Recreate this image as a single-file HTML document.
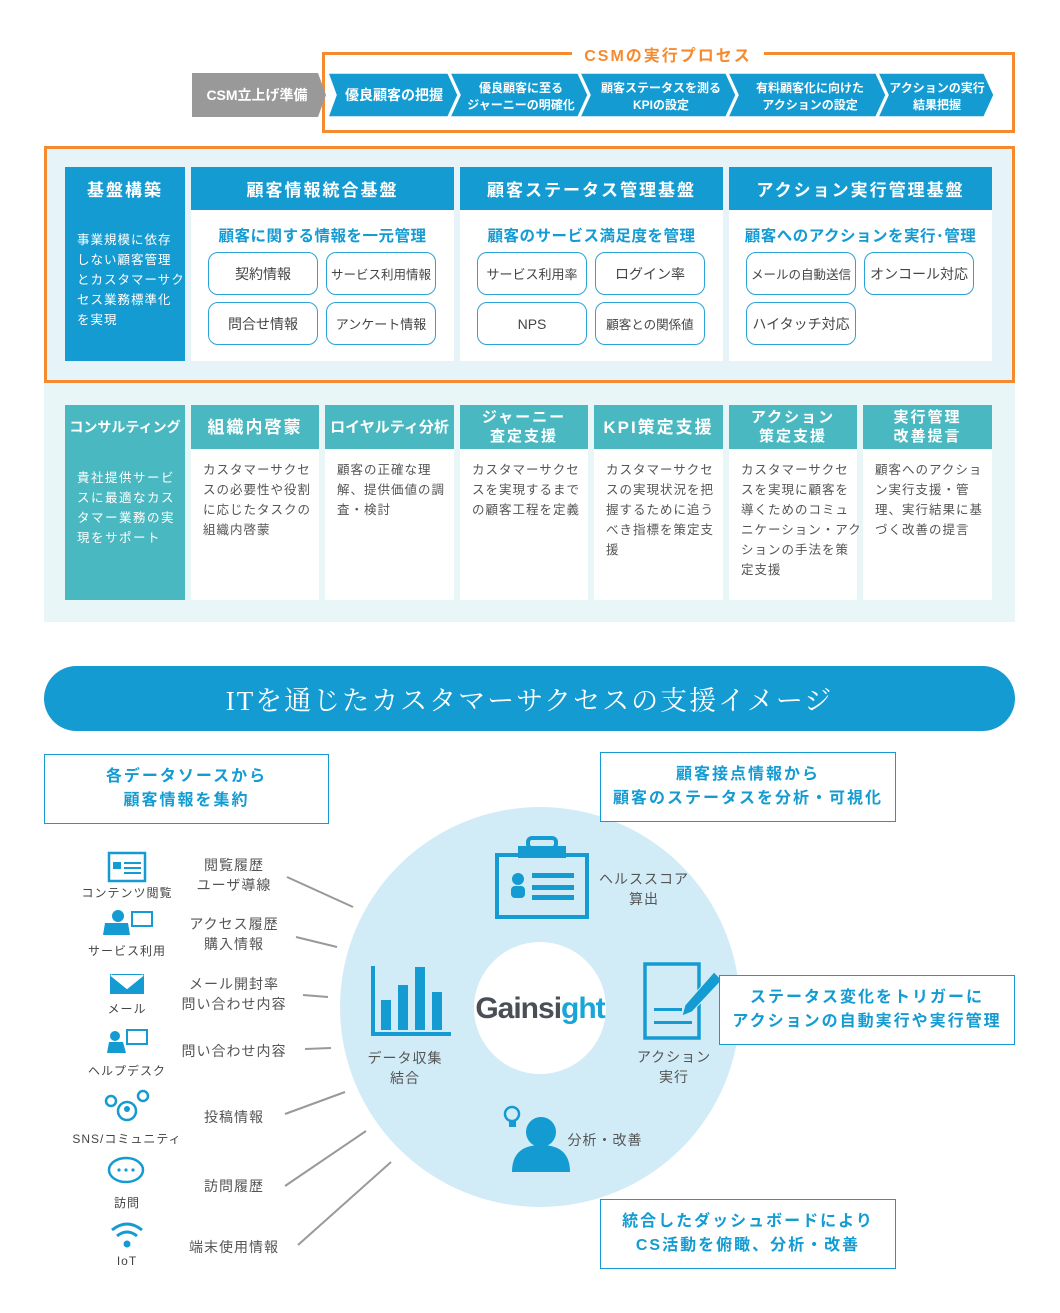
<!DOCTYPE html>
<html><head><meta charset="utf-8"><style>
body{margin:0;background:#fff;font-family:"Liberation Sans","Noto Sans CJK JP",sans-serif;}
#w{position:relative;width:1060px;height:1313px;overflow:hidden;}
.a{position:absolute;box-sizing:border-box;}
.c{display:flex;align-items:center;justify-content:center;text-align:center;}
.hb{background:#139bd2;color:#fff;font-weight:bold;font-size:17px;letter-spacing:2px;}
.ht{background:#4ab8c0;color:#fff;font-weight:bold;font-size:15px;letter-spacing:2px;line-height:19px;}
.wb{background:#fff;}
.pill{position:absolute;border:1.5px solid #2aa3d6;border-radius:10px;background:#fff;color:#444;font-size:14px;display:flex;align-items:center;justify-content:center;box-sizing:border-box;height:43px;width:110px;}
.sub{position:absolute;color:#139bd2;font-size:15.5px;font-weight:bold;text-align:center;letter-spacing:0.5px;white-space:nowrap;}
.bt{position:absolute;color:#555;font-size:12.5px;line-height:20px;letter-spacing:1px;white-space:nowrap;}
.bx{position:absolute;border:1.5px solid #139bd2;color:#139bd2;font-size:16px;font-weight:bold;letter-spacing:2px;line-height:24px;display:flex;align-items:center;justify-content:center;text-align:center;box-sizing:border-box;background:#fff;}
.lb{position:absolute;color:#555;font-size:14px;line-height:20px;text-align:center;letter-spacing:1px;}
.il{position:absolute;color:#444;font-size:12px;text-align:center;width:120px;letter-spacing:1px;}
</style></head><body><div id="w">
<div class="a" style="left:322px;top:52px;width:693px;height:81px;border:3px solid #f58a2f;"></div>
<div class="a" style="left:572px;top:42px;width:192px;height:22px;background:#fff;color:#f58a2f;font-weight:bold;font-size:16px;letter-spacing:2px;text-align:center;">CSMの実行プロセス</div>
<svg class="a" style="left:0;top:0" width="1060" height="140">
<polygon points="192,73 318,73 326,95 318,117 192,117" fill="#999"/>
<g fill="#139bd2" stroke="#fff" stroke-width="1.5">
<polygon points="328,73 448,73 458,95 448,117 328,117 336,95"/>
<polygon points="450,73 578,73 588,95 578,117 450,117 460,95"/>
<polygon points="580,73 726,73 736,95 726,117 580,117 590,95"/>
<polygon points="728,73 876,73 886,95 876,117 728,117 738,95"/>
<polygon points="878,73 984,73 994,95 984,117 878,117 888,95"/>
</g>
<g fill="#fff" font-size="12" font-weight="bold" text-anchor="middle" font-family="Liberation Sans,Noto Sans CJK JP,sans-serif">
<text x="257" y="100" font-size="14">CSM立上げ準備</text>
<text x="394" y="100" font-size="14">優良顧客の把握</text>
<text x="521" y="92">優良顧客に至る</text><text x="521" y="109">ジャーニーの明確化</text>
<text x="661" y="92">顧客ステータスを測る</text><text x="661" y="109">KPIの設定</text>
<text x="810" y="92">有料顧客化に向けた</text><text x="810" y="109">アクションの設定</text>
<text x="937" y="92">アクションの実行</text><text x="937" y="109">結果把握</text>
</g></svg>
<div class="a" style="left:44px;top:146px;width:971px;height:237px;border:3px solid #f58a2f;background:#e6f3f9;"></div>
<div class="a" style="left:65px;top:167px;width:120px;height:194px;background:#139bd2;"></div>
<div class="a c" style="left:65px;top:167px;width:120px;height:43px;color:#fff;font-weight:bold;font-size:17px;letter-spacing:2px;">基盤構築</div>
<div class="a" style="left:77px;top:230px;width:108px;color:#fff;font-size:12.5px;line-height:20px;letter-spacing:1px;white-space:nowrap;">事業規模に依存<br>しない顧客管理<br>とカスタマーサク<br>セス業務標準化<br>を実現</div>
<div class="a hb c" style="left:191px;top:167px;width:263px;height:43px;">顧客情報統合基盤</div>
<div class="a hb c" style="left:460px;top:167px;width:263px;height:43px;">顧客ステータス管理基盤</div>
<div class="a hb c" style="left:729px;top:167px;width:263px;height:43px;">アクション実行管理基盤</div>
<div class="a wb" style="left:191px;top:210px;width:263px;height:151px;"></div>
<div class="a wb" style="left:460px;top:210px;width:263px;height:151px;"></div>
<div class="a wb" style="left:729px;top:210px;width:263px;height:151px;"></div>
<div class="sub" style="left:191px;top:224px;width:263px;">顧客に関する情報を一元管理</div>
<div class="sub" style="left:460px;top:224px;width:263px;">顧客のサービス満足度を管理</div>
<div class="sub" style="left:729px;top:224px;width:263px;">顧客へのアクションを実行･管理</div>
<div class="pill" style="left:208px;top:252px;">契約情報</div>
<div class="pill" style="left:326px;top:252px;font-size:12.5px;">サービス利用情報</div>
<div class="pill" style="left:208px;top:302px;">問合せ情報</div>
<div class="pill" style="left:326px;top:302px;font-size:13px;">アンケート情報</div>
<div class="pill" style="left:477px;top:252px;font-size:13px;">サービス利用率</div>
<div class="pill" style="left:595px;top:252px;">ログイン率</div>
<div class="pill" style="left:477px;top:302px;">NPS</div>
<div class="pill" style="left:595px;top:302px;font-size:12.5px;">顧客との関係値</div>
<div class="pill" style="left:746px;top:252px;font-size:12.5px;">メールの自動送信</div>
<div class="pill" style="left:864px;top:252px;">オンコール対応</div>
<div class="pill" style="left:746px;top:302px;">ハイタッチ対応</div>
<div class="a" style="left:44px;top:383px;width:971px;height:239px;background:#e9f6f8;"></div>
<div class="a" style="left:65px;top:405px;width:120px;height:195px;background:#4ab8c0;"></div>
<div class="a c" style="left:65px;top:405px;width:120px;height:44px;color:#fff;font-weight:bold;font-size:14px;">コンサルティング</div>
<div class="a" style="left:77px;top:468px;width:108px;color:#fff;font-size:12.5px;line-height:20px;letter-spacing:1.5px;white-space:nowrap;">貴社提供サービ<br>スに最適なカス<br>タマー業務の実<br>現をサポート</div>
<div class="a ht c" style="left:191px;top:405px;width:128px;height:44px;font-size:17px;">組織内啓蒙</div>
<div class="a ht c" style="left:325px;top:405px;width:129px;height:44px;letter-spacing:0;">ロイヤルティ分析</div>
<div class="a ht c" style="left:460px;top:405px;width:128px;height:44px;">ジャーニー<br>査定支援</div>
<div class="a ht c" style="left:594px;top:405px;width:129px;height:44px;font-size:17px;">KPI策定支援</div>
<div class="a ht c" style="left:729px;top:405px;width:128px;height:44px;">アクション<br>策定支援</div>
<div class="a ht c" style="left:863px;top:405px;width:129px;height:44px;">実行管理<br>改善提言</div>
<div class="a wb" style="left:191px;top:449px;width:128px;height:151px;"></div>
<div class="a wb" style="left:325px;top:449px;width:129px;height:151px;"></div>
<div class="a wb" style="left:460px;top:449px;width:128px;height:151px;"></div>
<div class="a wb" style="left:594px;top:449px;width:129px;height:151px;"></div>
<div class="a wb" style="left:729px;top:449px;width:128px;height:151px;"></div>
<div class="a wb" style="left:863px;top:449px;width:129px;height:151px;"></div>
<div class="bt" style="left:203px;top:460px;">カスタマーサクセ<br>スの必要性や役割<br>に応じたタスクの<br>組織内啓蒙</div>
<div class="bt" style="left:337px;top:460px;">顧客の正確な理<br>解、提供価値の調<br>査・検討</div>
<div class="bt" style="left:472px;top:460px;">カスタマーサクセ<br>スを実現するまで<br>の顧客工程を定義</div>
<div class="bt" style="left:606px;top:460px;">カスタマーサクセ<br>スの実現状況を把<br>握するために追う<br>べき指標を策定支<br>援</div>
<div class="bt" style="left:741px;top:460px;">カスタマーサクセ<br>スを実現に顧客を<br>導くためのコミュ<br>ニケーション・アク<br>ションの手法を策<br>定支援</div>
<div class="bt" style="left:875px;top:460px;">顧客へのアクショ<br>ン実行支援・管<br>理、実行結果に基<br>づく改善の提言</div>
<div class="a c" style="left:44px;top:666px;width:971px;height:65px;border-radius:33px;background:#139bd2;color:#fff;font-family:'Liberation Serif','Noto Serif CJK SC',serif;font-size:27px;letter-spacing:2px;">ITを通じたカスタマーサクセスの支援イメージ</div>
<svg class="a" style="left:0;top:740px" width="1060" height="573">
<circle cx="540" cy="267" r="200" fill="#d2ecf7"/>
<circle cx="540" cy="268" r="66" fill="#fff"/>
<g stroke="#999" stroke-width="2">
<line x1="287" y1="137" x2="353" y2="167"/><line x1="296" y1="197" x2="337" y2="207"/>
<line x1="303" y1="255" x2="328" y2="257"/><line x1="305" y1="309" x2="331" y2="308"/>
<line x1="285" y1="374" x2="345" y2="352"/><line x1="285" y1="446" x2="366" y2="391"/>
<line x1="298" y1="505" x2="391" y2="422"/>
</g>
<g fill="#139bd2"><rect x="371" y="226" width="4" height="70"/><rect x="371" y="292" width="80" height="4"/>
<rect x="381" y="260" width="10" height="30"/><rect x="398" y="245" width="10" height="45"/><rect x="415" y="227" width="10" height="63"/><rect x="432" y="252" width="10" height="38"/></g>
<g><rect x="497" y="115" width="90" height="62" fill="none" stroke="#139bd2" stroke-width="4"/>
<rect x="518" y="106" width="48" height="12" fill="#139bd2"/><rect x="528" y="98" width="28" height="10" rx="4" fill="none" stroke="#139bd2" stroke-width="4"/>
<circle cx="518" cy="139" r="6" fill="#139bd2"/><rect x="511" y="146" width="14" height="12" rx="4" fill="#139bd2"/>
<rect x="532" y="133" width="42" height="5" fill="#139bd2"/><rect x="532" y="145" width="42" height="5" fill="#139bd2"/><rect x="532" y="155" width="42" height="5" fill="#139bd2"/></g>
<g><rect x="645" y="224" width="54" height="74" fill="none" stroke="#139bd2" stroke-width="3.5"/>
<rect x="654" y="268" width="28" height="3" fill="#139bd2"/><rect x="654" y="281" width="38" height="3" fill="#139bd2"/>
<polygon points="685,265 714,232 722,240 692,272 682,276" fill="#139bd2" stroke="#d2ecf7" stroke-width="1"/></g>
<g fill="#139bd2"><circle cx="541" cy="392" r="15"/><path d="M512,432 Q512,405 541,405 Q570,405 570,432Z"/>
<circle cx="512" cy="374" r="7" fill="none" stroke="#139bd2" stroke-width="2.5"/><rect x="509" y="381" width="7" height="6"/></g>
<text x="540" y="278" text-anchor="middle" font-family="Liberation Sans,sans-serif" font-size="30" font-weight="bold" letter-spacing="-1" fill="#4a4f55">Gainsi<tspan fill="#1aa5d8">ght</tspan></text>
<g fill="#139bd2">
<rect x="109" y="113" width="36" height="28" fill="#fff" stroke="#139bd2" stroke-width="2.5"/><rect x="113" y="122" width="8" height="7"/><rect x="124" y="122" width="17" height="2"/><rect x="124" y="127" width="17" height="2"/><rect x="124" y="132" width="17" height="2"/>
<circle cx="118" cy="176" r="6"/><path d="M103,195 L105,183 L128,183 L130,195Z"/><rect x="132" y="172" width="20" height="14" fill="none" stroke="#139bd2" stroke-width="2"/>
<path d="M109,233 h36 v22 h-36z M111,235 L127,248 L143,235" fill="#139bd2" stroke="#fff" stroke-width="2"/>
<circle cx="115" cy="296" r="5"/><path d="M107,313 L109,302 L123,302 L126,313Z"/><rect x="127" y="290" width="20" height="14" fill="none" stroke="#139bd2" stroke-width="2"/>
<circle cx="111" cy="361" r="5" fill="none" stroke="#139bd2" stroke-width="2.5"/><circle cx="143" cy="356" r="5" fill="none" stroke="#139bd2" stroke-width="2.5"/><circle cx="127" cy="371" r="9" fill="none" stroke="#139bd2" stroke-width="2.5"/><circle cx="127" cy="369" r="3"/>
<ellipse cx="126" cy="430" rx="17" ry="12" fill="#fff" stroke="#139bd2" stroke-width="2.5"/><circle cx="119" cy="430" r="1.6"/><circle cx="126" cy="430" r="1.6"/><circle cx="133" cy="430" r="1.6"/>
<path d="M112,490 Q127,478 142,490" fill="none" stroke="#139bd2" stroke-width="3"/><path d="M117,496 Q127,488 137,496" fill="none" stroke="#139bd2" stroke-width="3"/><circle cx="127" cy="504" r="3.5"/>
</g>
</svg>
<div class="il" style="left:67px;top:884px;">コンテンツ閲覧</div>
<div class="il" style="left:67px;top:942px;">サービス利用</div>
<div class="il" style="left:67px;top:1000px;">メール</div>
<div class="il" style="left:67px;top:1062px;">ヘルプデスク</div>
<div class="il" style="left:67px;top:1130px;">SNS/コミュニティ</div>
<div class="il" style="left:67px;top:1194px;">訪問</div>
<div class="il" style="left:67px;top:1254px;">IoT</div>
<div class="lb" style="left:174px;top:855px;width:120px;">閲覧履歴<br>ユーザ導線</div>
<div class="lb" style="left:174px;top:914px;width:120px;">アクセス履歴<br>購入情報</div>
<div class="lb" style="left:174px;top:974px;width:120px;">メール開封率<br>問い合わせ内容</div>
<div class="lb" style="left:174px;top:1041px;width:120px;">問い合わせ内容</div>
<div class="lb" style="left:174px;top:1107px;width:120px;">投稿情報</div>
<div class="lb" style="left:174px;top:1176px;width:120px;">訪問履歴</div>
<div class="lb" style="left:174px;top:1237px;width:120px;">端末使用情報</div>
<div class="lb" style="left:345px;top:1048px;width:120px;">データ収集<br>結合</div>
<div class="lb" style="left:584px;top:869px;width:120px;">ヘルススコア<br>算出</div>
<div class="lb" style="left:614px;top:1047px;width:120px;">アクション<br>実行</div>
<div class="lb" style="left:560px;top:1130px;width:90px;">分析・改善</div>
<div class="bx" style="left:44px;top:754px;width:285px;height:70px;">各データソースから<br>顧客情報を集約</div>
<div class="bx" style="left:600px;top:752px;width:296px;height:70px;">顧客接点情報から<br>顧客のステータスを分析・可視化</div>
<div class="bx" style="left:719px;top:975px;width:296px;height:70px;">ステータス変化をトリガーに<br>アクションの自動実行や実行管理</div>
<div class="bx" style="left:600px;top:1199px;width:296px;height:70px;">統合したダッシュボードにより<br>CS活動を俯瞰、分析・改善</div>
</div></body></html>
